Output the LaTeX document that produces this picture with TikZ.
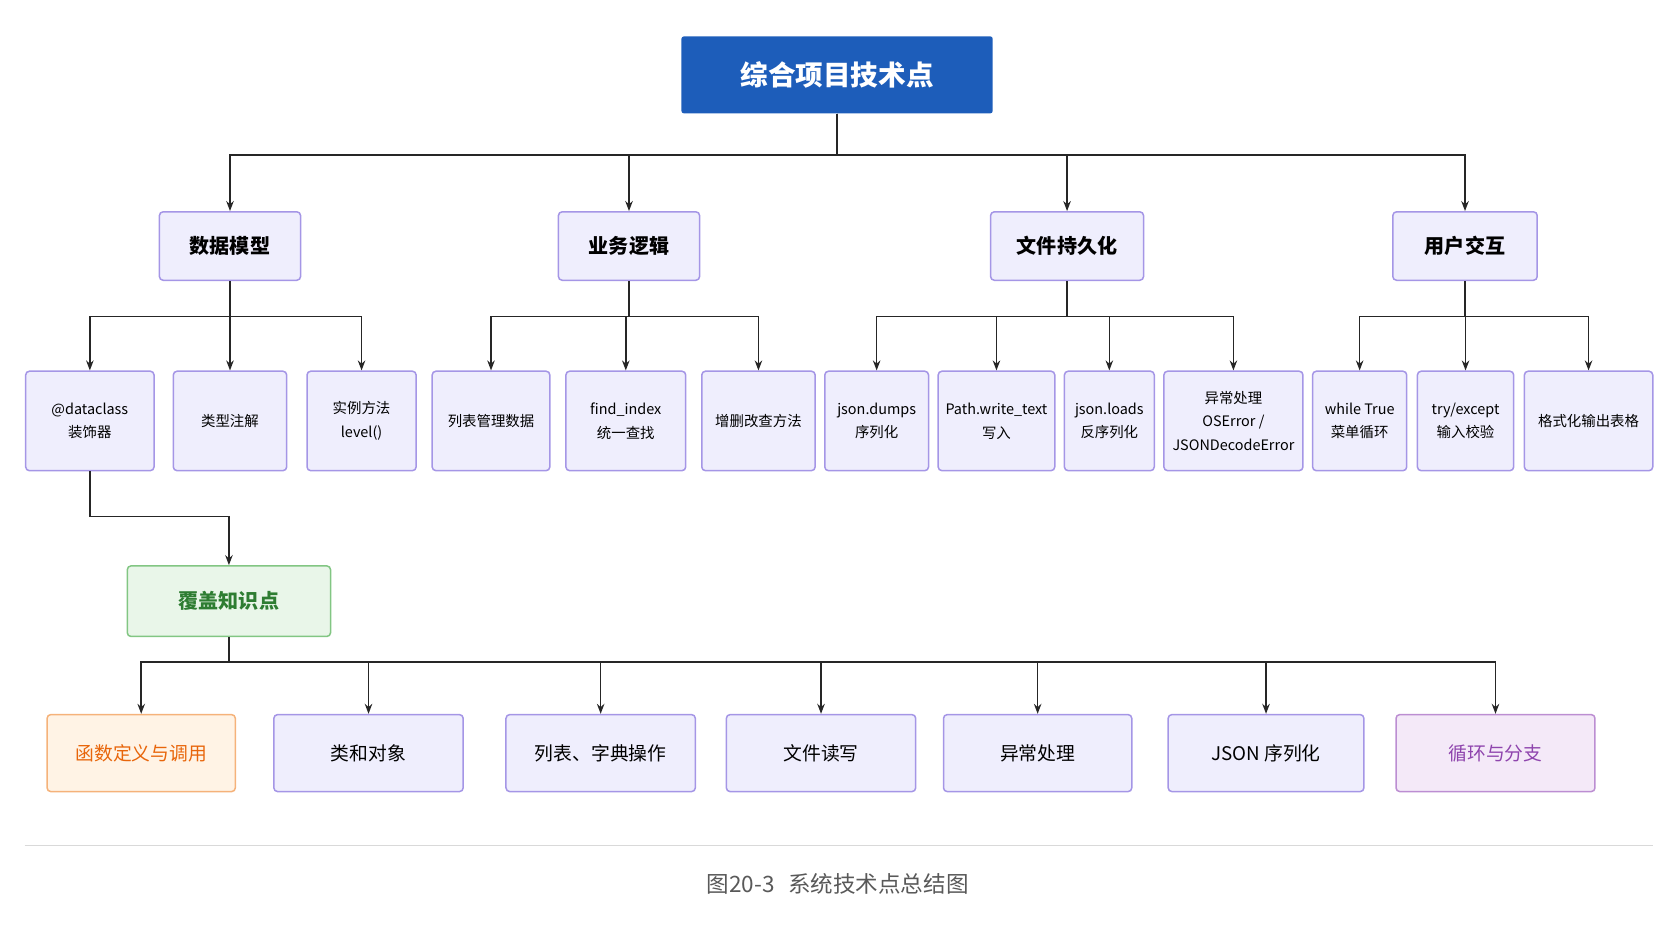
\documentclass[tikz,border=0pt]{standalone}
\usepackage{fontspec}
\setmainfont{Noto Sans CJK SC}
\usetikzlibrary{arrows.meta}
\definecolor{rootblue}{HTML}{1D5DBA}
\definecolor{lavfill}{HTML}{EFEEFD}
\definecolor{lavline}{HTML}{A596E6}
\definecolor{grnfill}{HTML}{E9F6E9}
\definecolor{grnline}{HTML}{82C683}
\definecolor{grntext}{HTML}{2E7D32}
\definecolor{orgfill}{HTML}{FFF3E5}
\definecolor{orgline}{HTML}{F5B27A}
\definecolor{orgtext}{HTML}{E8650A}
\definecolor{purfill}{HTML}{F4E9F8}
\definecolor{purline}{HTML}{BC8ED2}
\definecolor{purtext}{HTML}{8E44AD}
\tikzset{
  box/.style={draw=lavline, fill=lavfill, line width=1.2pt, rounded corners=3pt, align=center, inner sep=1pt},
  rootbox/.style={fill=rootblue, text=white, rounded corners=2pt, font=\fontsize{22}{26}\selectfont\bfseries},
  topic/.style={box, font=\fontsize{16}{20}\selectfont\bfseries},
  leaf/.style={box, font=\fontsize{11.5}{19}\selectfont},
  cover/.style={box, draw=grnline, fill=grnfill, text=grntext, font=\fontsize{16}{20}\selectfont\bfseries},
  know/.style={box, font=\fontsize{15}{19}\selectfont},
  arr/.style={-{Stealth[length=8pt,width=6pt]}, line width=1.2pt, draw=black!85},
}
% box from corners (x1,y1)-(x2,y2) in reference pixels
\newcommand\bx[7]{\node[#6, minimum width={(#4-#2)*0.03cm}, minimum height={(#5-#3)*0.03cm}] (#1) at ({(#2+#4)/2},{(#3+#5)/2}) {#7};}

\begin{document}
\begin{tikzpicture}[x=0.03cm, y=-0.03cm]
  \useasboundingbox (0,0) rectangle (1563,879);

  % levels
  \bx{root}{637}{34}{928}{106}{rootbox}{综合项目技术点}
  \bx{model}{149}{198}{281}{262}{topic}{数据模型}
  \bx{logic}{522}{198}{654}{262}{topic}{业务逻辑}
  \bx{persist}{926}{198}{1069}{262}{topic}{文件持久化}
  \bx{ui}{1302}{198}{1437}{262}{topic}{用户交互}

  \bx{dc}{24}{347}{144}{440}{leaf}{@dataclass\\装饰器}
  \bx{hint}{162}{347}{268}{440}{leaf}{类型注解}
  \bx{meth}{287}{347}{389}{440}{leaf}{实例方法\\level()}
  \bx{lst}{404}{347}{514}{440}{leaf}{列表管理数据}
  \bx{find}{529}{347}{641}{440}{leaf}{find\_index\\统一查找}
  \bx{crud}{656}{347}{762}{440}{leaf}{增删改查方法}
  \bx{dumps}{771}{347}{868}{440}{leaf}{json.dumps\\序列化}
  \bx{write}{877}{347}{986}{440}{leaf}{Path.write\_text\\写入}
  \bx{loads}{995}{347}{1079}{440}{leaf}{json.loads\\反序列化}
  \bx{exc}{1088}{347}{1218}{440}{leaf}{异常处理\\OSError /\\JSONDecodeError}
  \bx{loop}{1227}{347}{1315}{440}{leaf}{while True\\菜单循环}
  \bx{check}{1325}{347}{1415}{440}{leaf}{try/except\\输入校验}
  \bx{table}{1425}{347}{1545}{440}{leaf}{格式化输出表格}

  \bx{cov}{119}{529}{309}{595}{cover}{覆盖知识点}

  \bx{k1}{44}{668}{220}{740}{know, draw=orgline, fill=orgfill, text=orgtext}{函数定义与调用}
  \bx{k2}{256}{668}{433}{740}{know}{类和对象}
  \bx{k3}{473}{668}{650}{740}{know}{列表、字典操作}
  \bx{k4}{679}{668}{856}{740}{know}{文件读写}
  \bx{k5}{882}{668}{1058}{740}{know}{异常处理}
  \bx{k6}{1092}{668}{1275}{740}{know}{JSON 序列化}
  \bx{k7}{1305}{668}{1491}{740}{know, draw=purline, fill=purfill, text=purtext}{循环与分支}

  % bus heights
  \coordinate (b1) at (0,145);
  \coordinate (b2) at (0,296);
  \coordinate (b3) at (0,483);
  \coordinate (b4) at (0,619);

  \foreach \c in {model,logic,persist,ui}
    \draw[arr] (root.south) -- (root.south |- b1) -| (\c.north);
  \foreach \c in {dc,hint,meth}
    \draw[arr] (model.south) -- (model.south |- b2) -| (\c.north);
  \foreach \c in {lst,find,crud}
    \draw[arr] (logic.south) -- (logic.south |- b2) -| (\c.north);
  \foreach \c in {dumps,write,loads,exc}
    \draw[arr] (persist.south) -- (persist.south |- b2) -| (\c.north);
  \foreach \c in {loop,check,table}
    \draw[arr] (ui.south) -- (ui.south |- b2) -| (\c.north);
  \draw[arr] (dc.south) -- (dc.south |- b3) -| (cov.north);
  \foreach \c in {k1,k2,k3,k4,k5,k6,k7}
    \draw[arr] (cov.south) -- (cov.south |- b4) -| (\c.north);

  % caption
  \draw[black!15, line width=0.8pt] (23,790) -- (1545,790);
  \node[text=black!65, font=\fontsize{18}{22}\selectfont] (cap) at (783,826) {图20-3\hspace{0.6em}系统技术点总结图};
\end{tikzpicture}
\end{document}
